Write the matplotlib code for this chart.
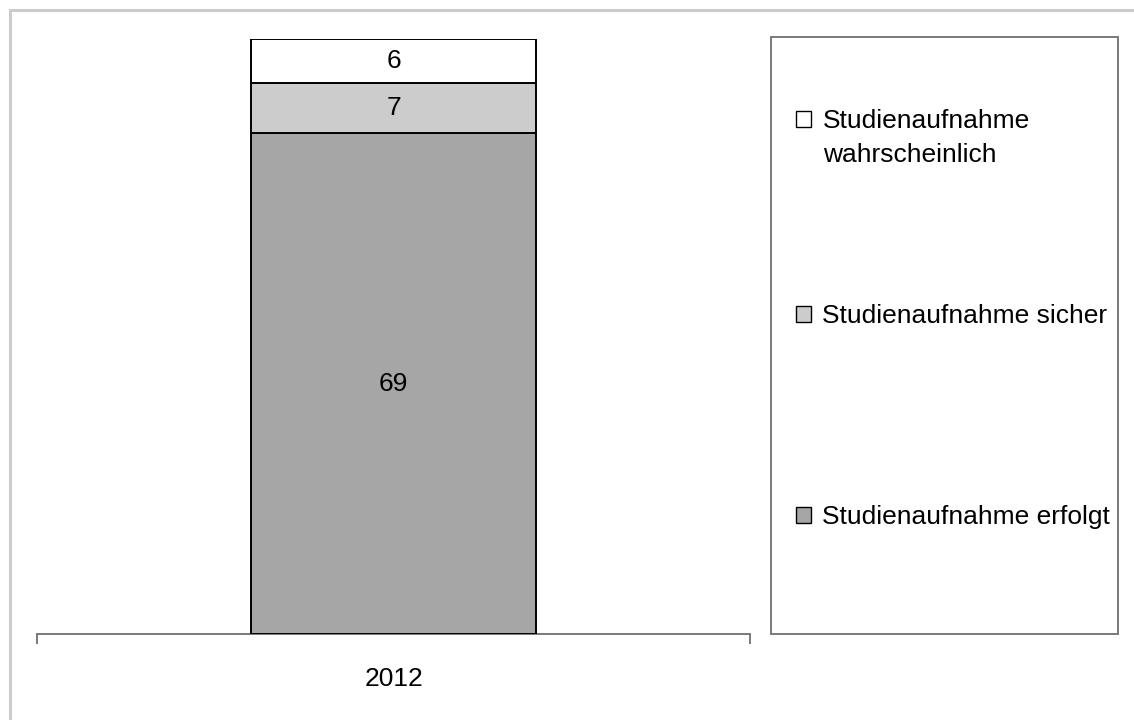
import matplotlib.pyplot as plt
from matplotlib.patches import Patch, Rectangle

plt.rcParams['font.family'] = ['Liberation Sans', 'DejaVu Sans']

years = ['2012']
erfolgt = [69]
sicher = [7]
wahrscheinlich = [6]
series_labels = ['Studienaufnahme erfolgt', 'Studienaufnahme sicher',
                 'Studienaufnahme\nwahrscheinlich']
colors = ['#a6a6a6', '#cccccc', '#ffffff']

W, H = 1134, 720
fig = plt.figure(figsize=(W / 100, H / 100), dpi=100)

# axes area in pixels: x 37..750, y 39..634
ax = fig.add_axes([37 / W, 1 - 634 / H, (750 - 37) / W, (634 - 39) / H])

x = [0]
bottom = [0]
for vals, c in zip([erfolgt, sicher, wahrscheinlich], colors):
    b = ax.bar(x, vals, width=0.4, bottom=bottom, color=c,
               edgecolor='black', linewidth=1.4, zorder=3)
    ax.bar_label(b, labels=[str(v) for v in vals], label_type='center',
                 fontsize=19, color='black')
    bottom = [bt + v for bt, v in zip(bottom, vals)]

ax.set_xlim(-0.5, 0.5)
ax.set_ylim(0, 82)
for s in ['left', 'right', 'top']:
    ax.spines[s].set_visible(False)
ax.spines['bottom'].set_color('#6f6f6f')
ax.spines['bottom'].set_linewidth(1.3)
ax.set_yticks([])
ax.set_xticks(x)
ax.set_xticklabels(years, fontsize=19)
ax.tick_params(axis='x', which='major', length=0, pad=24)
ax.set_xticks([-0.5, 0.5], minor=True)
ax.tick_params(axis='x', which='minor', length=7.5, width=1.3,
               color='#6f6f6f', direction='out')

# legend frame
fig.patches.append(Rectangle((771 / W, 1 - 634 / H), (1118 - 771) / W,
                             (634 - 37) / H, transform=fig.transFigure,
                             facecolor='none', edgecolor='#6f6f6f',
                             linewidth=1.3))

# legend entries, top to bottom (reversed series order)
entry_y = [517, 316, 121]
for lab, c, yy in zip(series_labels, colors, entry_y):
    first = lab.split('\n')[0]
    h = Patch(facecolor=c, edgecolor='black', linewidth=1.0)
    fig.legend([h], [first], loc='center left',
               bbox_to_anchor=(796 / W, 1 - yy / H),
               frameon=False, fontsize=19, borderpad=0,
               borderaxespad=0, handlelength=0.55, handleheight=0.55,
               handletextpad=0.45)
    if '\n' in lab:
        fig.text(823 / W, 1 - 162 / H, lab.split('\n')[1], fontsize=19,
                 va='baseline', ha='left')

# outer light-gray border (only top and left edges fall inside the picture)
fig.patches.append(Rectangle((10 / W, -0.1), 1.2, 1.1 - 10 / H,
                             transform=fig.transFigure,
                             facecolor='none', edgecolor='#cccccc',
                             linewidth=2.2))

fig.savefig('out.png', dpi=100)
